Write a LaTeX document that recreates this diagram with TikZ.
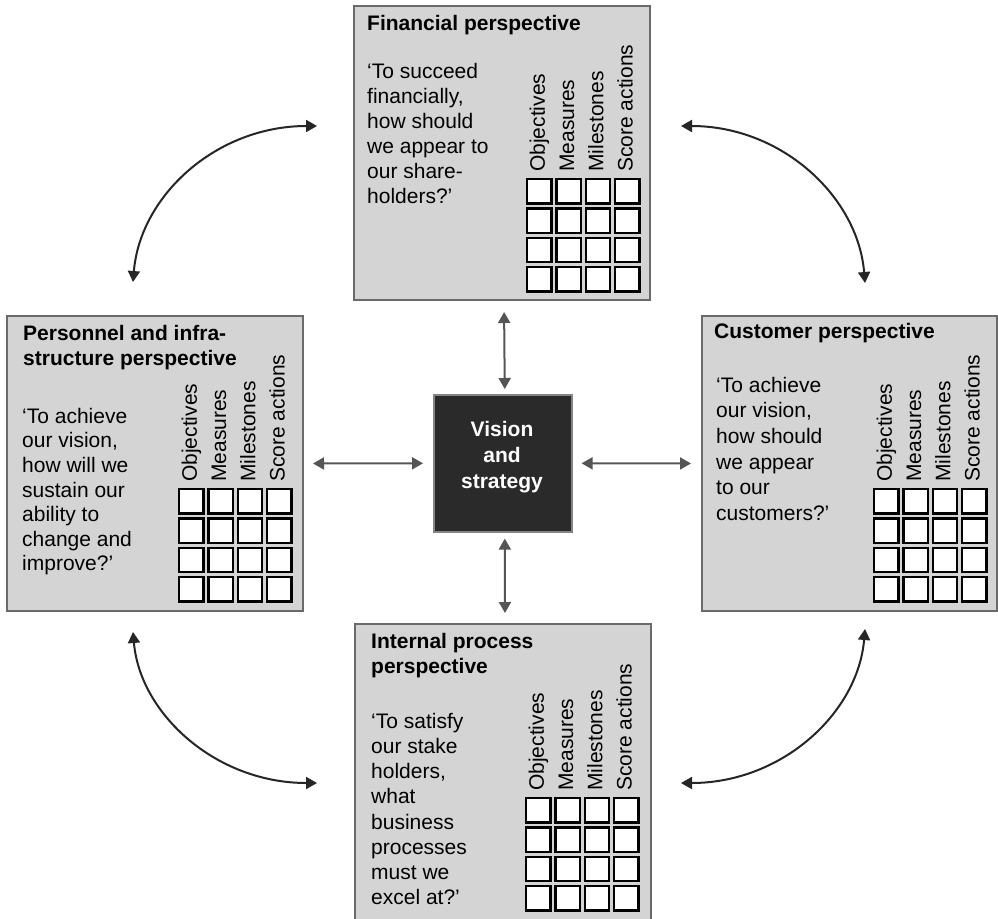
\documentclass[tikz,border=0pt]{standalone}
\usepackage{fontspec}
\setmainfont{Liberation Sans}
\usetikzlibrary{arrows.meta}
\definecolor{boxgray}{HTML}{D4D4D4}
\definecolor{boxline}{HTML}{6A6A6A}
\definecolor{visfill}{HTML}{2A2A2A}
\definecolor{visline}{HTML}{858585}
\definecolor{straw}{HTML}{555555}
\definecolor{curvaw}{HTML}{262626}
\newcommand\bscgrid[3]{%
  \foreach \i in {0,...,3}{\foreach \j in {0,...,3}{
    \draw[cellsq] ({#1+\i*29.3+1.2},{#2+\j*29.3+1.2}) rectangle ++(24.4,24.4);}}
  \foreach \t [count=\k from 0] in {Objectives,Measures,Milestones,Score actions}{
    \node[collabel] (#3-\k) at ({#1+\k*29.3+13.5},{#2-6}) {\t};}%
}
\begin{document}
\begin{tikzpicture}[x=1pt,y=-1pt,
  pbox/.style={draw=boxline, line width=2pt, fill=boxgray, inner sep=0pt, anchor=north west},
  cellsq/.style={draw=black, line width=2.4pt, fill=white},
  collabel/.style={rotate=90, anchor=west, inner sep=0pt, text height=15pt, text depth=4.4pt,
    font=\fontsize{21}{25}\selectfont},
  ttl/.style={anchor=north west, inner sep=0pt, align=left, font=\bfseries\fontsize{21}{25}\selectfont},
  bdy/.style={anchor=north west, inner sep=0pt, align=left, font=\fontsize{21}{25}\selectfont},
  straightarrow/.style={draw=straw, line width=2pt, {Triangle[length=11pt,width=12pt]}-{Triangle[length=11pt,width=12pt]}},
  curvedarrow/.style={draw=curvaw, line width=2pt, {Triangle[length=11pt,width=12pt]}-{Triangle[length=11pt,width=12pt]}}
]
\useasboundingbox (0,0) rectangle (998,918);
\fill[white] (0,0) rectangle (998,918);

% perspective boxes
\node[pbox, minimum width=296pt, minimum height=294pt] (fin) at (353,5) {};
\node[pbox, minimum width=296pt, minimum height=295pt] (per) at (6,315) {};
\node[pbox, minimum width=295pt, minimum height=295pt] (cus) at (701,315) {};
\node[pbox, minimum width=296pt, minimum height=310pt] (int) at (354,623) {};
\node[draw=visline, line width=1.6pt, fill=visfill, inner sep=0pt, anchor=north west,
  minimum width=138pt, minimum height=137pt] (vis) at (433,394) {};
\node[text=white, align=center, inner sep=0pt, font=\bfseries\fontsize{21}{26}\selectfont]
  (vist) at (502,457.5) {Vision\\and\\strategy};

% Financial
\node[ttl] (fint) at (367,12) {\rule{0pt}{18pt}Financial perspective};
\node[bdy] (finb) at (367,60) {\rule{0pt}{18pt}‘To succeed\\financially,\\how should\\we appear to\\our share-\\holders?’};
\bscgrid{526}{178}{fing}

% Personnel
\node[ttl] (pert) at (23,322) {\rule{0pt}{18pt}Personnel and infra-\\structure perspective};
\node[bdy, font=\fontsize{21}{24.6}\selectfont] (perb) at (22,405) {\rule{0pt}{18pt}‘To achieve\\our vision,\\how will we\\sustain our\\ability to\\change and\\improve?’};
\bscgrid{178}{488}{perg}

% Customer
\node[ttl] (cust) at (714,320) {\rule{0pt}{18pt}Customer perspective};
\node[bdy, font=\fontsize{21}{25.6}\selectfont] (cusb) at (716,374) {\rule{0pt}{18pt}‘To achieve\\our vision,\\how should\\we appear\\to our\\customers?’};
\bscgrid{873}{488}{cusg}

% Internal
\node[ttl] (intt) at (371,630) {\rule{0pt}{18pt}Internal process\\perspective};
\node[bdy, font=\fontsize{21}{25.2}\selectfont] (intb) at (371,710) {\rule{0pt}{18pt}‘To satisfy\\our stake\\holders,\\what\\business\\processes\\must we\\excel at?’};
\bscgrid{525}{797}{intg}

% straight arrows
\draw[straightarrow, shorten <=11pt, shorten >=5pt] ([xshift=2pt]fin.south) -- ([xshift=2pt]vis.north);
\draw[straightarrow, shorten <=6pt, shorten >=10pt] ([xshift=2pt]vis.south) -- ([xshift=2pt]int.north);
\draw[straightarrow, shorten <=9pt, shorten >=10pt] (per.east) -- (vis.west);
\draw[straightarrow, shorten <=9pt, shorten >=10pt] (vis.east) -- (cus.west);

% curved arrows
\coordinate (a1) at (317,126);
\coordinate (a2) at (133,282);
\coordinate (b1) at (133,632);
\coordinate (b2) at (317,783);
\coordinate (c1) at (681,126);
\coordinate (c2) at (865,283);
\coordinate (d1) at (865,629);
\coordinate (d2) at (681,783);
\draw[curvedarrow] (a1) .. controls (216,126) and (140,196) .. (a2);
\draw[curvedarrow] (b1) .. controls (140,714) and (216,783) .. (b2);
\draw[curvedarrow] (c1) .. controls (782,126) and (858,197) .. (c2);
\draw[curvedarrow] (d1) .. controls (858,713) and (782,783) .. (d2);
\end{tikzpicture}
\end{document}
